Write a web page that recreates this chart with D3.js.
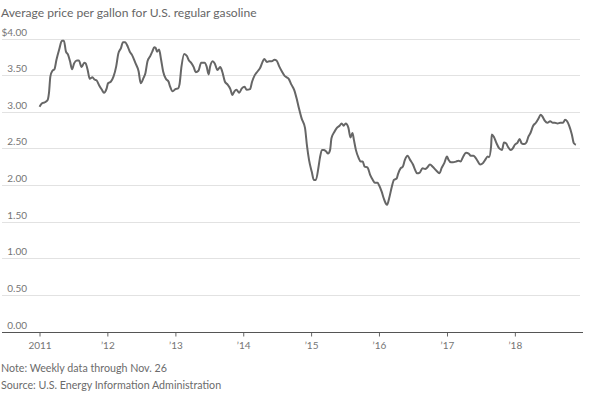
<!DOCTYPE html>
<html>
<head>
<meta charset="utf-8">
<script src="https://cdn.jsdelivr.net/npm/d3@7"></script>
<style>
  html, body { margin: 0; padding: 0; background: #fff; }
  svg { display: block; }
  text { font-family: Lato, "Open Sans", sans-serif; fill: #6b6b6b; }
</style>
</head>
<body>
<svg id="chart" width="600" height="395"></svg>
<script>
// ---- data (decimal year, price in $) ----
const title = "Average price per gallon for U.S. regular gasoline";
const notes = ["Note: Weekly data through Nov. 26", "Source: U.S. Energy Information Administration"];
const yTicks = [0, 0.5, 1, 1.5, 2, 2.5, 3, 3.5, 4];
const xTickYears = [2011, 2012, 2013, 2014, 2015, 2016, 2017, 2018];
const xTickLabels = ["2011", "\u201912", "\u201913", "\u201914", "\u201915", "\u201916", "\u201917", "\u201918"];

const times = [
  2011.00, 2011.03, 2011.08, 2011.12, 2011.14, 2011.16, 2011.19, 2011.22, 2011.25, 2011.29,
  2011.33, 2011.36, 2011.39, 2011.42, 2011.45, 2011.48, 2011.51, 2011.55, 2011.58, 2011.62,
  2011.66, 2011.68, 2011.71, 2011.74, 2011.78, 2011.81, 2011.84, 2011.88, 2011.92, 2011.95,
  2011.99, 2012.01, 2012.05, 2012.09, 2012.13, 2012.16, 2012.20, 2012.23, 2012.26, 2012.30,
  2012.33, 2012.36, 2012.41, 2012.46, 2012.49, 2012.53, 2012.56, 2012.59, 2012.63, 2012.66,
  2012.69, 2012.71, 2012.73, 2012.76, 2012.79, 2012.82, 2012.86, 2012.90, 2012.92, 2012.96,
  2013.00, 2013.04, 2013.06, 2013.09, 2013.13, 2013.17, 2013.20, 2013.23, 2013.27, 2013.30,
  2013.34, 2013.38, 2013.43, 2013.46, 2013.49, 2013.51, 2013.55, 2013.58, 2013.62, 2013.66,
  2013.69, 2013.73, 2013.77, 2013.81, 2013.84, 2013.87, 2013.90, 2013.94, 2013.98, 2014.02,
  2014.05, 2014.10, 2014.13, 2014.17, 2014.21, 2014.25, 2014.28, 2014.31, 2014.35, 2014.38,
  2014.42, 2014.46, 2014.49, 2014.53, 2014.57, 2014.61, 2014.64, 2014.67, 2014.71, 2014.75,
  2014.79, 2014.82, 2014.86, 2014.91, 2014.94, 2014.97, 2015.01, 2015.04, 2015.07, 2015.11,
  2015.13, 2015.16, 2015.19, 2015.22, 2015.25, 2015.28, 2015.30, 2015.34, 2015.38, 2015.42,
  2015.45, 2015.48, 2015.51, 2015.55, 2015.58, 2015.61, 2015.63, 2015.66, 2015.70, 2015.73,
  2015.76, 2015.79, 2015.83, 2015.87, 2015.91, 2015.94, 2015.98, 2016.00, 2016.04, 2016.07,
  2016.10, 2016.12, 2016.15, 2016.19, 2016.22, 2016.26, 2016.28, 2016.32, 2016.35, 2016.38,
  2016.42, 2016.46, 2016.50, 2016.53, 2016.56, 2016.60, 2016.64, 2016.68, 2016.71, 2016.75,
  2016.79, 2016.82, 2016.86, 2016.89, 2016.92, 2016.96, 2017.00, 2017.02, 2017.06, 2017.09,
  2017.13, 2017.17, 2017.20, 2017.24, 2017.28, 2017.32, 2017.35, 2017.39, 2017.45, 2017.49,
  2017.53, 2017.56, 2017.60, 2017.62, 2017.65, 2017.66, 2017.69, 2017.73, 2017.77, 2017.81,
  2017.84, 2017.87, 2017.90, 2017.94, 2017.97, 2018.00, 2018.04, 2018.07, 2018.10, 2018.14,
  2018.17, 2018.20, 2018.23, 2018.27, 2018.31, 2018.35, 2018.38, 2018.41, 2018.44, 2018.48,
  2018.52, 2018.56, 2018.59, 2018.63, 2018.67, 2018.71, 2018.74, 2018.77, 2018.80, 2018.84,
  2018.87, 2018.90
];
const prices = [
  3.07, 3.11, 3.13, 3.16, 3.26, 3.48, 3.56, 3.58, 3.71, 3.85,
  3.97, 3.97, 3.82, 3.78, 3.69, 3.58, 3.66, 3.70, 3.70, 3.61,
  3.67, 3.66, 3.57, 3.45, 3.47, 3.44, 3.43, 3.36, 3.30, 3.26,
  3.32, 3.39, 3.41, 3.48, 3.62, 3.79, 3.87, 3.95, 3.95, 3.89,
  3.82, 3.78, 3.67, 3.55, 3.39, 3.46, 3.53, 3.69, 3.76, 3.82,
  3.88, 3.87, 3.82, 3.85, 3.71, 3.55, 3.45, 3.41, 3.35, 3.28,
  3.31, 3.32, 3.37, 3.62, 3.79, 3.76, 3.70, 3.67, 3.61, 3.54,
  3.56, 3.67, 3.67, 3.62, 3.51, 3.61, 3.69, 3.66, 3.57, 3.61,
  3.55, 3.41, 3.37, 3.31, 3.23, 3.28, 3.30, 3.26, 3.32, 3.34,
  3.30, 3.31, 3.41, 3.50, 3.55, 3.60, 3.67, 3.72, 3.68, 3.69,
  3.69, 3.71, 3.70, 3.62, 3.55, 3.49, 3.47, 3.45, 3.37, 3.30,
  3.17, 3.05, 2.91, 2.78, 2.53, 2.34, 2.18, 2.07, 2.07, 2.25,
  2.37, 2.48, 2.48, 2.46, 2.43, 2.48, 2.64, 2.72, 2.78, 2.81,
  2.84, 2.81, 2.84, 2.78, 2.65, 2.71, 2.62, 2.48, 2.37, 2.32,
  2.32, 2.25, 2.24, 2.14, 2.07, 2.03, 2.03, 2.00, 1.91, 1.82,
  1.75, 1.73, 1.82, 1.98, 2.07, 2.09, 2.15, 2.23, 2.25, 2.34,
  2.40, 2.34, 2.28, 2.21, 2.16, 2.17, 2.23, 2.22, 2.24, 2.28,
  2.25, 2.22, 2.18, 2.16, 2.23, 2.30, 2.39, 2.35, 2.31, 2.31,
  2.32, 2.33, 2.32, 2.39, 2.44, 2.43, 2.40, 2.40, 2.33, 2.28,
  2.30, 2.34, 2.39, 2.38, 2.53, 2.69, 2.66, 2.57, 2.50, 2.48,
  2.58, 2.57, 2.52, 2.48, 2.50, 2.55, 2.58, 2.63, 2.57, 2.56,
  2.58, 2.66, 2.71, 2.81, 2.85, 2.91, 2.96, 2.93, 2.88, 2.85,
  2.87, 2.85, 2.85, 2.84, 2.85, 2.85, 2.89, 2.87, 2.81, 2.69,
  2.57, 2.55
];

// ---- helpers ----
function yearToDate(t) {
  const y = Math.floor(t);
  const start = new Date(y, 0, 1), end = new Date(y + 1, 0, 1);
  return new Date(start.getTime() + (t - y) * (end - start));
}
const data = times.map((t, i) => ({ date: yearToDate(t), value: prices[i] }));

const svg = d3.select("#chart");

const x = d3.scaleTime()
  .domain([new Date(2011, 0, 1), new Date(2019, 0, 1)])
  .range([39.5, 582.7]);
const y = d3.scaleLinear().domain([0, 4]).range([331.6, 38.5]);

// title
svg.append("text").attr("x", 1).attr("y", 17)
  .style("font-size", "12.1px").style("fill", "#666")
  .text(title);

// gridlines (excluding 0)
svg.append("g").selectAll("line")
  .data(yTicks.filter(d => d > 0))
  .join("line")
  .attr("x1", 2).attr("x2", 580)
  .attr("y1", d => Math.round(y(d)) + 0.5).attr("y2", d => Math.round(y(d)) + 0.5)
  .attr("stroke", "#e2e2e2").attr("stroke-width", 1);

// y labels
svg.append("g").selectAll("text")
  .data(yTicks)
  .join("text")
  .attr("x", 27).attr("y", d => y(d) - 3)
  .attr("text-anchor", "end")
  .style("font-size", "10px").style("fill", "#757575")
  .text(d => (d === 4 ? "$" : "") + d.toFixed(2));

// x axis
const xAxis = d3.axisBottom(x)
  .tickValues(xTickYears.map(yr => new Date(yr, 0, 1)))
  .tickFormat((d, i) => xTickLabels[i])
  .tickSize(4)
  .tickPadding(5);
const gx = svg.append("g").attr("transform", `translate(0,${Math.round(y(0)) + 0.5})`).call(xAxis);
gx.select(".domain").remove();
gx.selectAll(".tick line").attr("stroke", "#666");
gx.selectAll(".tick text").style("font-size", "10px").style("fill", "#757575")
  .style("font-family", "Lato, 'Open Sans', sans-serif");
svg.append("line")
  .attr("x1", 2).attr("x2", 583)
  .attr("y1", Math.round(y(0)) + 0.5).attr("y2", Math.round(y(0)) + 0.5)
  .attr("stroke", "#555").attr("stroke-width", 1);

// line
const line = d3.line()
  .x(d => x(d.date))
  .y(d => y(d.value))
  .curve(d3.curveMonotoneX);
svg.append("path").datum(data)
  .attr("d", line)
  .attr("fill", "none")
  .attr("stroke", "#666")
  .attr("stroke-width", 2)
  .attr("stroke-linejoin", "round");

// notes
svg.append("g").selectAll("text")
  .data(notes)
  .join("text")
  .attr("x", 1).attr("y", (d, i) => 372 + i * 17)
  .style("font-size", "10.7px")
  .text(d => d);
</script>
</body>
</html>
